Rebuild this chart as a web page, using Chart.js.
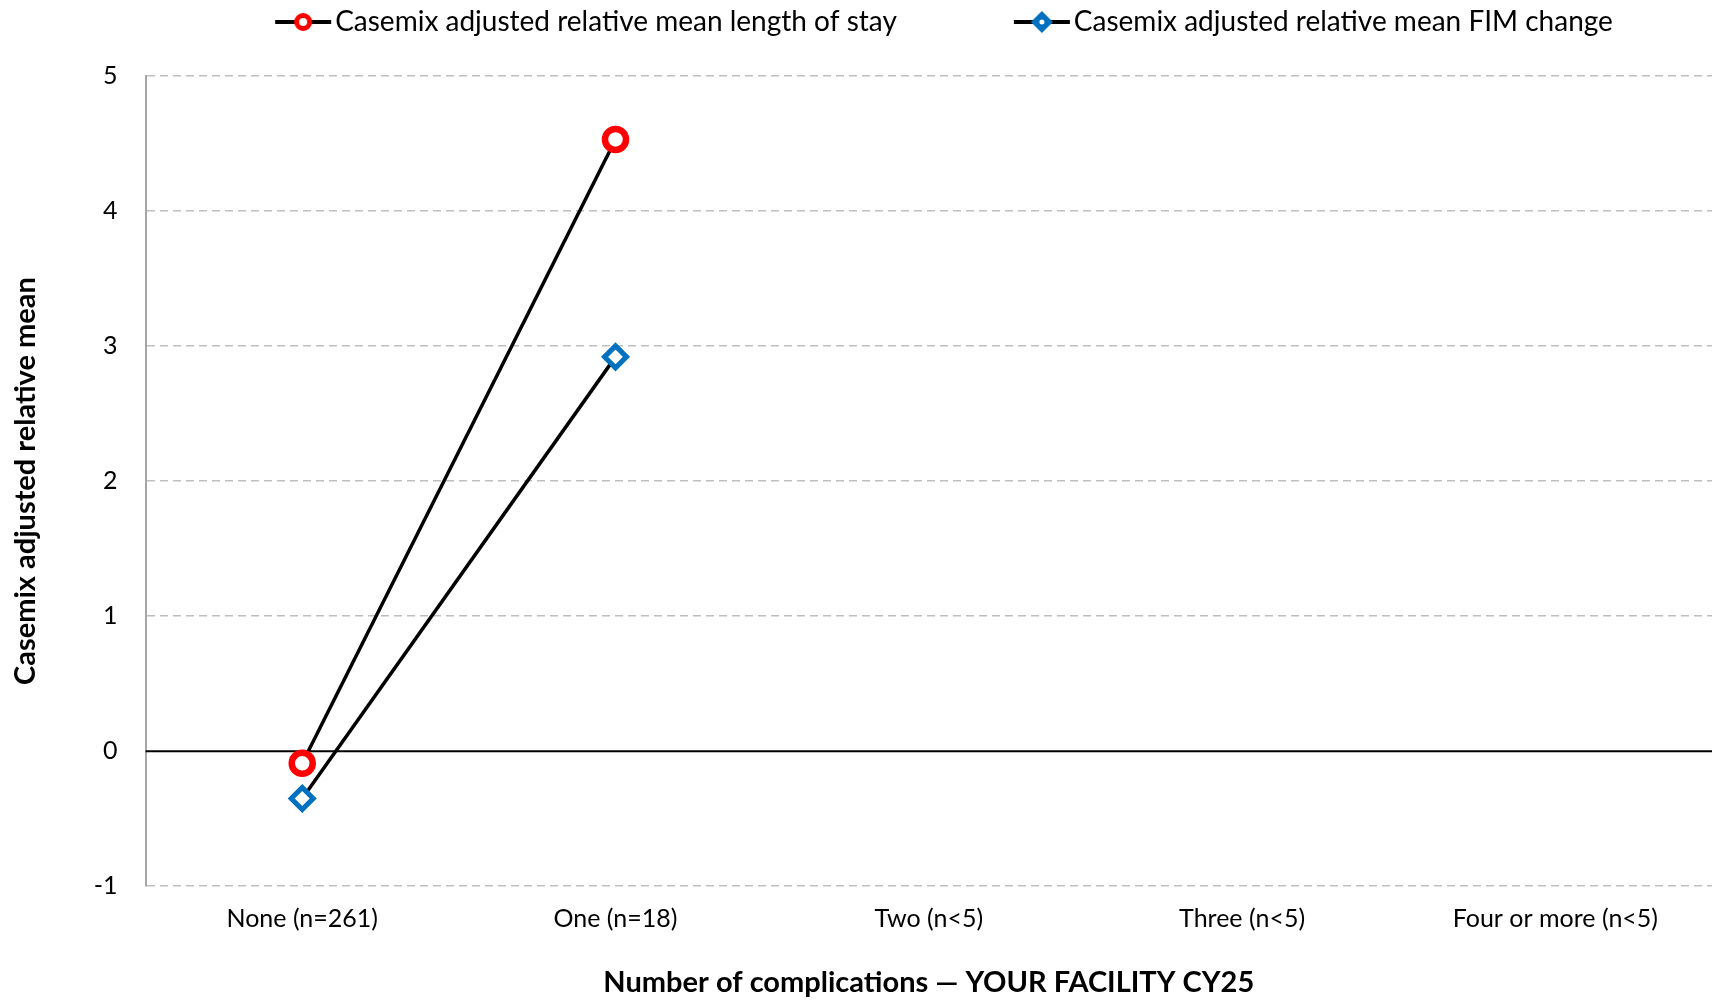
<!DOCTYPE html>
<html>
<head>
<meta charset="utf-8">
<script src="https://cdn.jsdelivr.net/npm/chart.js@4.4.1/dist/chart.umd.min.js"></script>
<style>
  html, body { margin: 0; padding: 0; background: #fff; }
  #wrap { width: 1729px; height: 1000px; }
</style>
</head>
<body>
<div id="wrap"><canvas id="chart" width="1729" height="1000"></canvas></div>
<script>
// データ
const categories = ['None (n=261)', 'One (n=18)', 'Two (n<5)', 'Three (n<5)', 'Four or more (n<5)'];
const losValues = [-0.09, 4.53, null, null, null];
const fimValues = [-0.35, 2.92, null, null, null];
const yTicks = [-1, 0, 1, 2, 3, 4, 5];

const FONT = 'Lato, "Noto Sans", sans-serif';
const LEGEND_FONT = 28;
const LEGEND_PAD = 127;

// 凡例用のアイコン（線＋マーカー）
function legendIcon(style, color) {
    const c = document.createElement('canvas');
    c.width = 58;
    c.height = 26;
    const ctx = c.getContext('2d');
    ctx.strokeStyle = '#000';
    ctx.lineWidth = 4;
    ctx.beginPath();
    ctx.moveTo(1, 13);
    ctx.lineTo(57, 13);
    ctx.stroke();
    if (style === 'circle') {
        ctx.lineWidth = 5;
        ctx.strokeStyle = color;
        ctx.fillStyle = '#fff';
        ctx.beginPath();
        ctx.arc(29, 13, 6.5, 0, Math.PI * 2);
        ctx.fill();
        ctx.stroke();
    } else {
        ctx.fillStyle = color;
        ctx.beginPath();
        ctx.moveTo(29, 2); ctx.lineTo(40, 13); ctx.lineTo(29, 24); ctx.lineTo(18, 13); ctx.closePath();
        ctx.fill();
        ctx.fillStyle = '#fff';
        ctx.beginPath();
        ctx.arc(29, 13, 2.5, 0, Math.PI * 2);
        ctx.fill();
    }
    return c;
}
const icons = [legendIcon('circle', '#ff0000'), legendIcon('rectRot', '#0070c0')];

// ゼロ線を実線で描く
const zeroLine = {
    id: 'zeroLine',
    beforeDatasetsDraw(chart) {
        const y = chart.scales.y.getPixelForValue(0);
        const area = chart.chartArea;
        const ctx = chart.ctx;
        ctx.save();
        ctx.strokeStyle = '#000';
        ctx.lineWidth = 2;
        ctx.beginPath();
        ctx.moveTo(area.left, y);
        ctx.lineTo(area.right, y);
        ctx.stroke();
        ctx.restore();
    }
};

// 凡例の高さと位置の調整
const legendPlace = {
    id: 'legendPlace',
    beforeInit(chart) {
        const fit = chart.legend.fit;
        chart.legend.fit = function() {
            fit.call(this);
            this.height = 76;
        };
    },
    afterLayout(chart) {
        const lg = chart.legend;
        lg.top = 22 - LEGEND_PAD - LEGEND_FONT / 2;
        lg.left += 85;
        lg.right += 85;
    }
};

const ctx = document.getElementById('chart').getContext('2d');
const chart = new Chart(ctx, {
    type: 'line',
    data: {
        labels: categories,
        datasets: [
            {
                label: 'Casemix adjusted relative mean length of stay',
                data: losValues,
                borderColor: '#000',
                borderWidth: 3.5,
                pointStyle: 'circle',
                pointRadius: 10.5,
                pointBorderWidth: 6.5,
                pointBorderColor: '#ff0000',
                pointBackgroundColor: '#fff'
            },
            {
                label: 'Casemix adjusted relative mean FIM change',
                data: fimValues,
                borderColor: '#000',
                borderWidth: 3.5,
                pointStyle: 'rectRot',
                pointRadius: 11,
                pointBorderWidth: 5,
                pointBorderColor: '#0070c0',
                pointBackgroundColor: '#fff'
            }
        ]
    },
    options: {
        responsive: false,
        animation: false,
        layout: { padding: { top: 0, right: 9, bottom: 0, left: 8 } },
        scales: {
            x: {
                offset: true,
                grid: { display: false },
                border: { display: false },
                ticks: { color: '#000', font: { family: FONT, size: 25 }, padding: 10 },
                title: {
                    display: true,
                    text: 'Number of complications \u2014 YOUR FACILITY CY25',
                    color: '#000',
                    font: { family: FONT, size: 29, weight: 'bold' },
                    padding: { top: 21, bottom: 0 }
                }
            },
            y: {
                min: -1,
                max: 5,
                afterBuildTicks: axis => { axis.ticks = yTicks.map(v => ({ value: v })); },
                grid: {
                    color: c => (c.tick && c.tick.value === 0) ? 'rgba(0,0,0,0)' : '#bfbfbf',
                    lineWidth: 1.5,
                    drawTicks: false
                },
                border: { display: true, color: '#a6a6a6', width: 2, dash: [8, 5] },
                ticks: { color: '#000', font: { family: FONT, size: 25 }, padding: 28 },
                title: {
                    display: true,
                    text: 'Casemix adjusted relative mean',
                    color: '#000',
                    font: { family: FONT, size: 29, weight: 'bold' },
                    padding: { top: 0, bottom: 23 }
                }
            }
        },
        plugins: {
            legend: {
                position: 'top',
                labels: {
                    color: '#000',
                    font: { family: FONT, size: LEGEND_FONT },
                    usePointStyle: true,
                    pointStyleWidth: 36,
                    padding: LEGEND_PAD,
                    generateLabels: function(chart) {
                        const items = Chart.defaults.plugins.legend.labels.generateLabels(chart);
                        items.forEach((it, i) => { it.pointStyle = icons[i]; });
                        return items;
                    }
                }
            },
            tooltip: { enabled: false }
        }
    },
    plugins: [zeroLine, legendPlace]
});
</script>
</body>
</html>
